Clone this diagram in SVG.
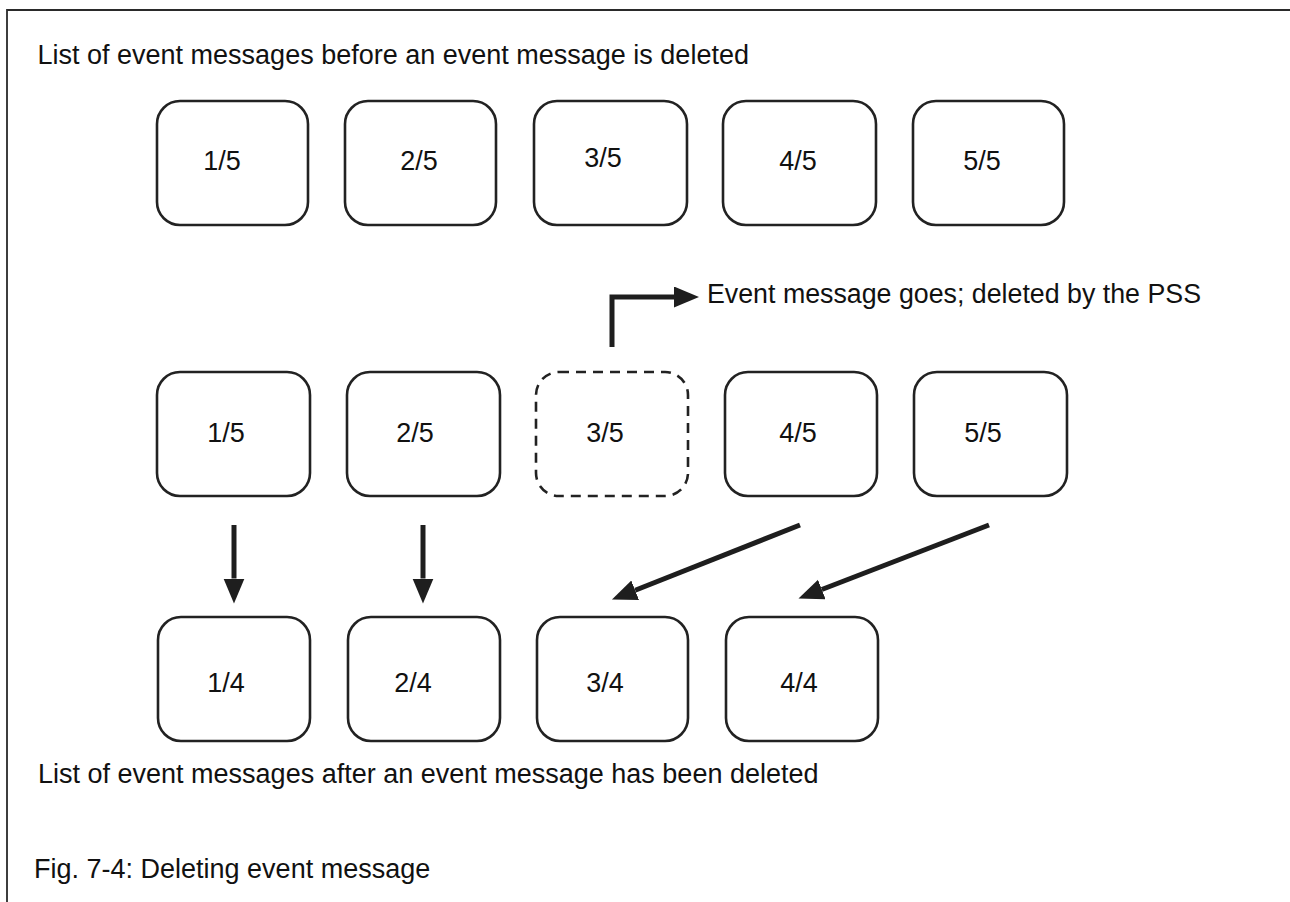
<svg xmlns="http://www.w3.org/2000/svg" width="1290" height="902" viewBox="0 0 1290 902">
<style>
  .bg { fill: #ffffff; }
  .frame { fill: none; stroke: #2a2a2a; stroke-width: 1.8; }
  .box { fill: #ffffff; stroke: #222222; stroke-width: 2.6; }
  .dashed { fill: #ffffff; stroke: #222222; stroke-width: 2.6; stroke-dasharray: 10 7; }
  .lbl { font-family: "Liberation Sans", Arial, Helvetica, sans-serif; font-size: 27px; fill: #111111; }
  .mid { text-anchor: middle; }
  .conn { fill: none; stroke: #1e1e1e; stroke-width: 5; stroke-linejoin: miter; }
</style>
<defs>
  <marker id="ah" markerUnits="userSpaceOnUse" markerWidth="26" markerHeight="22" refX="0" refY="10.5" orient="auto">
    <path d="M0,0 L25,10.5 L0,21 Z" fill="#1e1e1e"/>
  </marker>
</defs>
<rect class="bg" x="0" y="0" width="1290" height="902"/>
<path class="frame" d="M7,902 V10 H1290"/>

<g id="texts">
  <text class="lbl" x="37.5" y="64">List of event messages before an event message is deleted</text>
  <text class="lbl" x="707" y="303" textLength="494" lengthAdjust="spacingAndGlyphs">Event message goes; deleted by the PSS</text>
  <text class="lbl" x="38" y="783">List of event messages after an event message has been deleted</text>
  <text class="lbl" x="34" y="878">Fig. 7-4: Deleting event message</text>
</g>

<g id="before-1"><rect class="box" x="157" y="101" width="151" height="124" rx="23"/><text class="lbl mid" x="222" y="170">1/5</text></g>
<g id="before-2"><rect class="box" x="345" y="101" width="151" height="124" rx="23"/><text class="lbl mid" x="419" y="170">2/5</text></g>
<g id="before-3"><rect class="box" x="534" y="101" width="153" height="124" rx="23"/><text class="lbl mid" x="603" y="167">3/5</text></g>
<g id="before-4"><rect class="box" x="723" y="101" width="153" height="124" rx="23"/><text class="lbl mid" x="798" y="170">4/5</text></g>
<g id="before-5"><rect class="box" x="913" y="101" width="151" height="124" rx="23"/><text class="lbl mid" x="982" y="170">5/5</text></g>

<g id="mid-1"><rect class="box" x="157" y="372" width="153" height="124" rx="23"/><text class="lbl mid" x="226" y="442">1/5</text></g>
<g id="mid-2"><rect class="box" x="347" y="372" width="153" height="124" rx="23"/><text class="lbl mid" x="415" y="442">2/5</text></g>
<g id="mid-3"><rect class="dashed" x="536" y="372" width="152" height="124" rx="23"/><text class="lbl mid" x="605" y="442">3/5</text></g>
<g id="mid-4"><rect class="box" x="725" y="372" width="152" height="124" rx="23"/><text class="lbl mid" x="798" y="442">4/5</text></g>
<g id="mid-5"><rect class="box" x="914" y="372" width="153" height="124" rx="23"/><text class="lbl mid" x="983" y="442">5/5</text></g>

<g id="after-1"><rect class="box" x="158" y="617" width="152" height="124" rx="23"/><text class="lbl mid" x="226" y="692">1/4</text></g>
<g id="after-2"><rect class="box" x="348" y="617" width="152" height="124" rx="23"/><text class="lbl mid" x="413" y="692">2/4</text></g>
<g id="after-3"><rect class="box" x="537" y="617" width="151" height="124" rx="23"/><text class="lbl mid" x="605" y="692">3/4</text></g>
<g id="after-4"><rect class="box" x="726" y="617" width="152" height="124" rx="23"/><text class="lbl mid" x="799" y="692">4/4</text></g>

<g id="connectors">
  <path class="conn" d="M612,347 V297 H674" marker-end="url(#ah)"/>
  <path class="conn" d="M234,525 V578.5" marker-end="url(#ah)"/>
  <path class="conn" d="M423,525 V578.5" marker-end="url(#ah)"/>
  <path class="conn" d="M800,525 L635.2,590.3" marker-end="url(#ah)"/>
  <path class="conn" d="M989,525 L821.8,589.5" marker-end="url(#ah)"/>
</g>
</svg>
